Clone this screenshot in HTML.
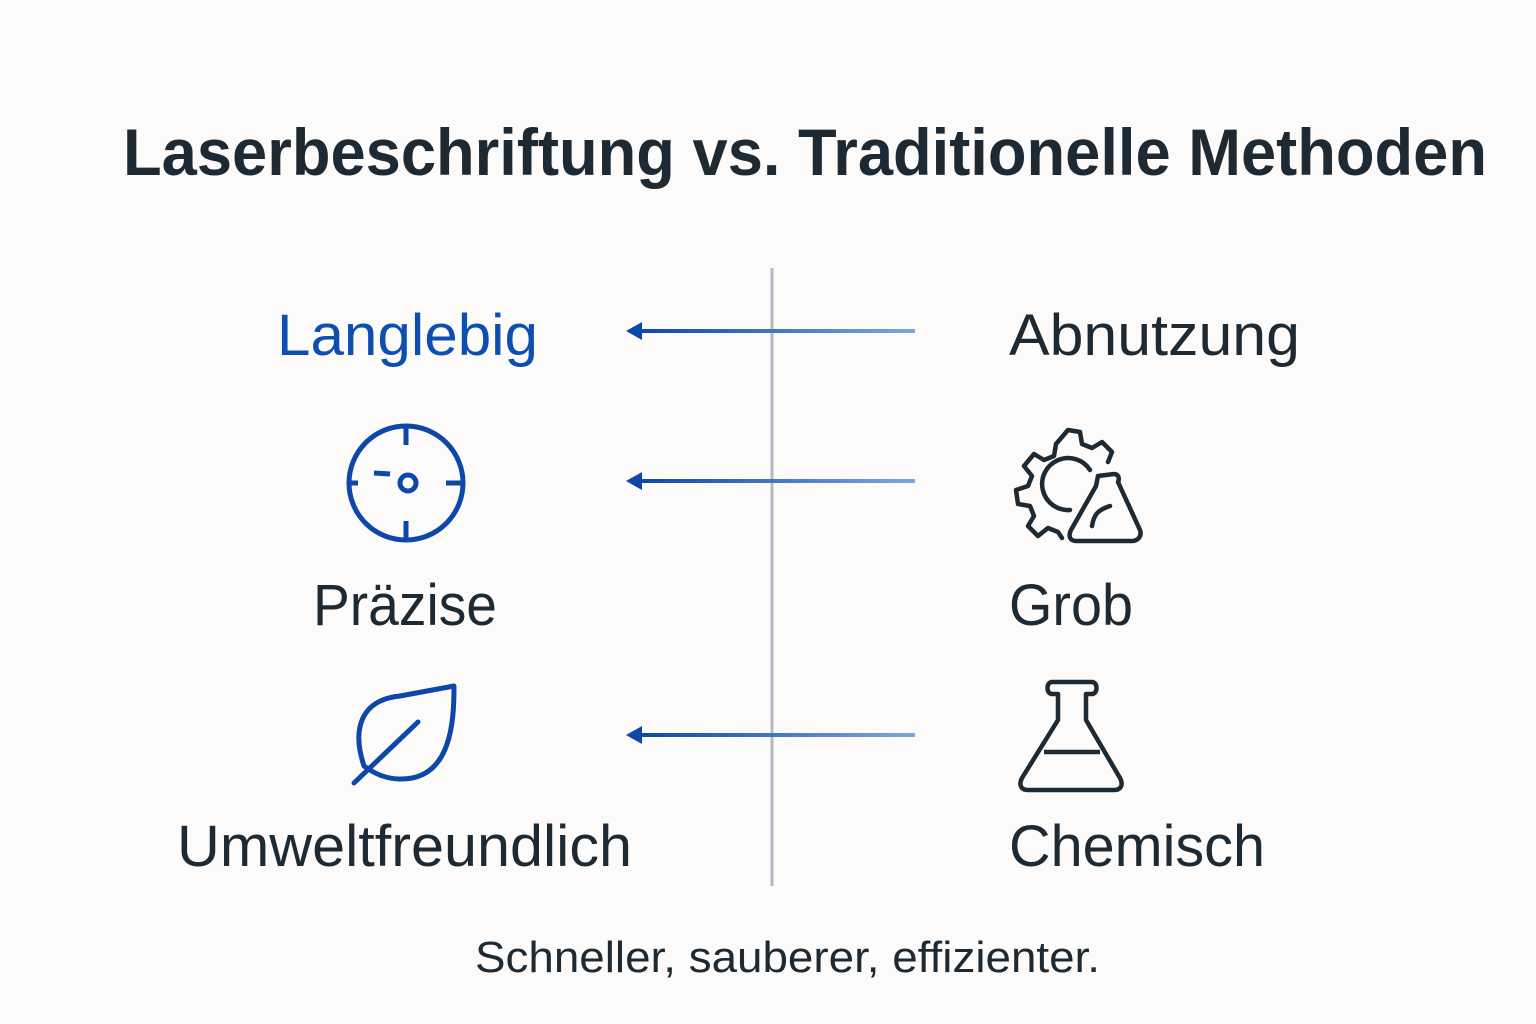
<!DOCTYPE html>
<html><head><meta charset="utf-8"><style>
html,body{margin:0;padding:0;background:#fcfbf9;}
svg{display:block;}
text{font-family:"Liberation Sans",sans-serif;}
</style></head><body>
<svg width="1536" height="1024" viewBox="0 0 1536 1024">
<defs>
<linearGradient id="g" gradientUnits="userSpaceOnUse" x1="636" y1="0" x2="915" y2="0"><stop offset="0" stop-color="#0d47a8"/><stop offset="1" stop-color="#7ba8dc"/></linearGradient>
</defs>
<rect width="1536" height="1024" fill="#fcfbf9"/>
<text x="123" y="175" font-size="66" font-weight="bold" fill="#1e2a33" textLength="1364" lengthAdjust="spacingAndGlyphs">Laserbeschriftung vs. Traditionelle Methoden</text>
<line x1="772" y1="268" x2="772" y2="886" stroke="#b3bac2" stroke-width="3"/>
<g stroke="url(#g)" stroke-width="4" fill="none">
<line x1="636" y1="331" x2="915" y2="331"/>
<line x1="636" y1="481" x2="915" y2="481"/>
<line x1="636" y1="735" x2="915" y2="735"/>
</g>
<g fill="#0d47a8">
<polygon points="626,331 642,322 642,340"/>
<polygon points="626,481 642,472 642,490"/>
<polygon points="626,735 642,726 642,744"/>
</g>
<g font-size="58" fill="#1e2a33">
<text x="277" y="355" fill="#0d4fb0" textLength="261" lengthAdjust="spacingAndGlyphs">Langlebig</text>
<text x="1009" y="355" textLength="291" lengthAdjust="spacingAndGlyphs">Abnutzung</text>
<text x="313" y="625" textLength="184" lengthAdjust="spacingAndGlyphs">Präzise</text>
<text x="1009" y="625" textLength="124" lengthAdjust="spacingAndGlyphs">Grob</text>
<text x="177" y="866" textLength="455" lengthAdjust="spacingAndGlyphs">Umweltfreundlich</text>
<text x="1009" y="866" textLength="256" lengthAdjust="spacingAndGlyphs">Chemisch</text>
</g>
<text x="475" y="972" font-size="44" fill="#1e2a33" textLength="625" lengthAdjust="spacingAndGlyphs">Schneller, sauberer, effizienter.</text>
<g stroke="#0d47a8" stroke-width="5" fill="none" stroke-linecap="butt">
<circle cx="406" cy="483" r="57"/>
<line x1="406" y1="425" x2="406" y2="445"/>
<line x1="406" y1="521" x2="406" y2="541"/>
<line x1="348" y1="483" x2="358" y2="483"/>
<line x1="446" y1="483" x2="464" y2="483"/>
<circle cx="408" cy="483" r="8"/>
<line x1="374" y1="473" x2="390" y2="474"/>
</g>
<g stroke="#0d47a8" stroke-width="5" fill="none" stroke-linecap="round" stroke-linejoin="round">
<path d="M364,766 C352,730 360,700 400,696 L454,686 C454,720 452,780 400,779 C385,779 372,772 364,766 Z"/>
<line x1="354" y1="783" x2="418" y2="722"/>
</g>
<g stroke="#1e2a33" stroke-width="4.5" fill="none" stroke-linejoin="round" stroke-linecap="round">
<path d="M1062,538 L1058,532 L1048,528 L1038,536 L1028,526 L1034,516 L1030,506 L1018,504 L1016,490 L1028,486 L1032,476 L1024,466 L1034,454 L1044,460 L1054,456 L1056,444 L1068,430 L1080,432 L1082,444 L1092,448 L1102,442 L1112,452 L1108,462"/>
<path d="M1090,470 A26,26 0 1 0 1070,510"/>
<path d="M1098,476 L1114,474 C1118,474 1120,478 1118,482 L1140,530 C1142,536 1138,541 1132,541 L1076,541 C1070,541 1068,536 1071,530 L1096,486 Z"/>
<path d="M1092,526 C1094,514 1098,510 1110,506"/>
</g>
<g stroke="#1e2a33" stroke-width="4.5" fill="none" stroke-linejoin="round">
<path d="M1052,682 L1092,682 C1098,682 1098,694 1092,694 L1086,694 L1086,720 L1120,778 C1124,786 1120,790 1114,790 L1028,790 C1022,790 1018,786 1022,778 L1058,720 L1058,694 L1052,694 C1046,694 1046,682 1052,682 Z"/>
<line x1="1044" y1="752" x2="1100" y2="752"/>
</g>
</svg>
</body></html>
